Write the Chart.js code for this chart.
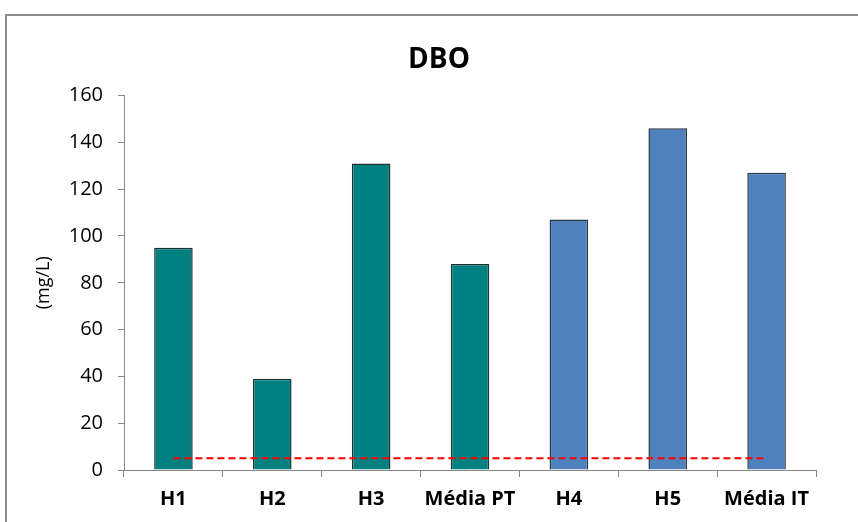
<!DOCTYPE html>
<html>
<head>
<meta charset="utf-8">
<script src="https://cdn.jsdelivr.net/npm/chart.js@4/dist/chart.umd.min.js"></script>
<style>
  html, body { margin: 0; padding: 0; background: #fff; overflow: hidden; }
  #wrap { position: relative; width: 858px; height: 522px; }
  #frame {
    position: absolute; left: 5px; top: 14px; width: 870px; height: 530px;
    border: 2px solid #8c8c8c; box-sizing: border-box;
  }
  canvas { position: absolute; left: 0; top: 0; }
</style>
</head>
<body>
<div id="wrap">
  <div id="frame"></div>
  <canvas id="chart" width="858" height="522"></canvas>
</div>
<script>
// Pontos de coleta e DBO medida (mg/L)
const categorias = ['H1', 'H2', 'H3', 'Média PT', 'H4', 'H5', 'Média IT'];
const dbo = [95, 39, 131, 88, 107, 146, 127];
const grupo = ['PT', 'PT', 'PT', 'PT', 'IT', 'IT', 'IT'];
// Valor de referência (linha tracejada)
const limite = [5, 5, 5, 5, 5, 5, 5];
const ticksY = { min: 0, max: 160, passo: 20 };

const corGrupo = { PT: '#008080', IT: '#4f81bd' };
const bordaGrupo = { PT: '#1f3333', IT: '#273646' };
const eixoCor = '#868686';

new Chart(document.getElementById('chart'), {
  data: {
    labels: categorias,
    datasets: [
      {
        type: 'line',
        label: 'Limite',
        data: limite,
        borderColor: '#ff0000',
        borderWidth: 2,
        borderDash: [7, 4],
        pointRadius: 0,
        fill: false,
        order: 0
      },
      {
        type: 'bar',
        label: 'DBO',
        data: dbo,
        backgroundColor: grupo.map(g => corGrupo[g]),
        borderColor: grupo.map(g => bordaGrupo[g]),
        borderWidth: 1.5,
        borderSkipped: 'bottom',
        categoryPercentage: 1,
        barPercentage: 0.39,
        order: 1
      }
    ]
  },
  options: {
    responsive: false,
    animation: false,
    devicePixelRatio: 1,
    layout: { padding: { left: 20, right: 0, top: 0, bottom: 0 } },
    plugins: {
      legend: { display: false },
      tooltip: { enabled: false },
      title: {
        display: true,
        text: 'DBO',
        color: '#000',
        font: { family: 'Open Sans', size: 28, weight: 'bold', lineHeight: 1.2 },
        padding: { top: 43, bottom: 19 }
      }
    },
    scales: {
      x: {
        grid: {
          offset: true,
          drawOnChartArea: false,
          drawTicks: true,
          tickLength: 7,
          color: eixoCor
        },
        border: { color: eixoCor, width: 1 },
        ticks: {
          color: '#000',
          padding: 10,
          maxRotation: 0,
          autoSkip: false,
          font: { family: 'Open Sans', size: 20, weight: 'bold' }
        },
        afterFit(scale) { scale.height = 52; }
      },
      y: {
        min: ticksY.min,
        max: ticksY.max,
        grid: {
          drawOnChartArea: false,
          drawTicks: true,
          tickLength: 6,
          color: eixoCor
        },
        border: { color: eixoCor, width: 1 },
        ticks: {
          stepSize: ticksY.passo,
          color: '#000',
          padding: 15,
          font: { family: 'Open Sans', size: 20 }
        },
        title: {
          display: true,
          text: '(mg/L)',
          color: '#000',
          font: { family: 'Open Sans', size: 18, lineHeight: 1.2 },
          padding: { top: 13, bottom: 0 }
        },
        afterFit(scale) { scale.width = 104; }
      },
      // margem direita vazia ao lado da área do gráfico
      margem: {
        type: 'linear',
        position: 'right',
        display: true,
        grid: { display: false },
        border: { display: false },
        ticks: { display: false },
        afterFit(scale) { scale.width = 42; }
      }
    }
  }
});
</script>
</body>
</html>
